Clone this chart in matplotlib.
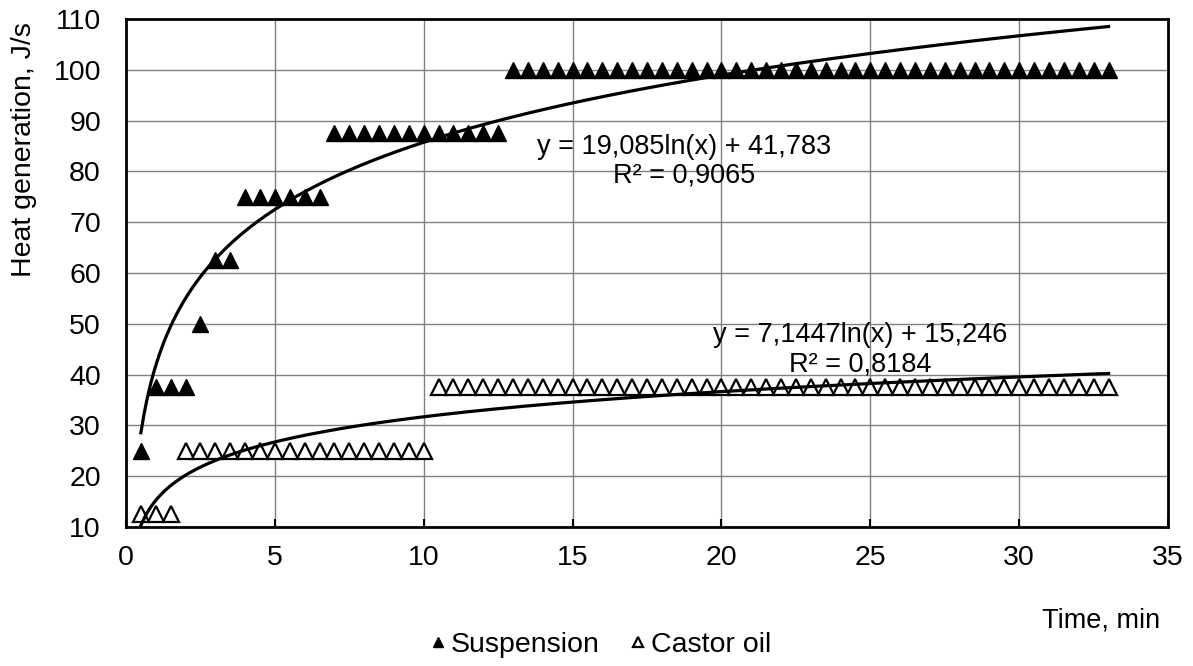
import numpy as np
import matplotlib
matplotlib.use("Agg")
import matplotlib.pyplot as plt

plt.rcParams["font.family"] = ["Liberation Sans", "DejaVu Sans"]

# time, min (step 0.5)
susp_time = [0.5, 1, 1.5, 2, 2.5, 3, 3.5,
             4, 4.5, 5, 5.5, 6, 6.5,
             7, 7.5, 8, 8.5, 9, 9.5, 10, 10.5, 11, 11.5, 12, 12.5] + \
            [13 + 0.5 * i for i in range(41)]
susp_heat = [25, 37.5, 37.5, 37.5, 50, 62.5, 62.5,
             75, 75, 75, 75, 75, 75,
             87.5, 87.5, 87.5, 87.5, 87.5, 87.5, 87.5, 87.5, 87.5, 87.5, 87.5, 87.5] + \
            [100] * 41

oil_time = [0.5, 1, 1.5] + [2 + 0.5 * i for i in range(17)] + [10.5 + 0.5 * i for i in range(46)]
oil_heat = [12.5, 12.5, 12.5] + [25] * 17 + [37.5] * 46

# logarithmic trendlines as printed on the chart: y = a*ln(x) + b
susp_fit = (19.085, 41.783)
oil_fit = (7.1447, 15.246)
susp_eq = "y = 19,085ln(x) + 41,783\nR² = 0,9065"
oil_eq = "y = 7,1447ln(x) + 15,246\nR² = 0,8184"

x_ticks = [0, 5, 10, 15, 20, 25, 30, 35]
y_ticks = [10, 20, 30, 40, 50, 60, 70, 80, 90, 100, 110]

FS = 20.5


def log_trend(x, coef):
    a, b = coef
    xs = np.linspace(min(x), max(x), 300)
    return xs, a * np.log(xs) + b


fig = plt.figure(figsize=(11.93, 6.66), dpi=100)
ax = fig.add_axes([0.1056, 0.2087, 0.8735, 0.7628])

ax.plot(susp_time, susp_heat, linestyle="none", marker="^", markersize=11,
        color="black", label="Suspension")
ax.plot(oil_time, oil_heat, linestyle="none", marker="^", markersize=11,
        markerfacecolor="white", markeredgecolor="black", markeredgewidth=1.6,
        label="Castor oil")

xs, ys = log_trend(susp_time, susp_fit)
ax.plot(xs, ys, color="black", linewidth=2.3)
xs, ys = log_trend(oil_time, oil_fit)
ax.plot(xs, ys, color="black", linewidth=2.3)

ax.set_xlim(0, 35)
ax.set_ylim(10, 110)
ax.set_xticks(x_ticks)
ax.set_yticks(y_ticks)
ax.grid(True, color="#808080", linewidth=1.0)
ax.set_axisbelow(True)
for spine in ax.spines.values():
    spine.set_linewidth(2)
ax.tick_params(axis="x", direction="in", length=6, width=1.5, labelsize=FS, pad=13)
ax.tick_params(axis="y", length=0, labelsize=FS, pad=18)

ax.text(18.75, 82, susp_eq, ha="center", va="center", fontsize=19.5, linespacing=1.15)
ax.text(24.65, 44.9, oil_eq, ha="center", va="center", fontsize=19.5, linespacing=1.15)

fig.text(0.02, 0.775, "Heat generation, J/s", rotation=90, ha="center", va="center",
         fontsize=FS)
fig.text(0.923, 0.069, "Time, min", ha="center", va="center", fontsize=19.5)

fig.legend(loc="center", bbox_to_anchor=(0.504, 0.032), ncol=2, frameon=False,
           fontsize=FS, markerscale=0.65, handlelength=0.5, handletextpad=0.2,
           columnspacing=1.1)

fig.savefig("out.png", dpi=100)
